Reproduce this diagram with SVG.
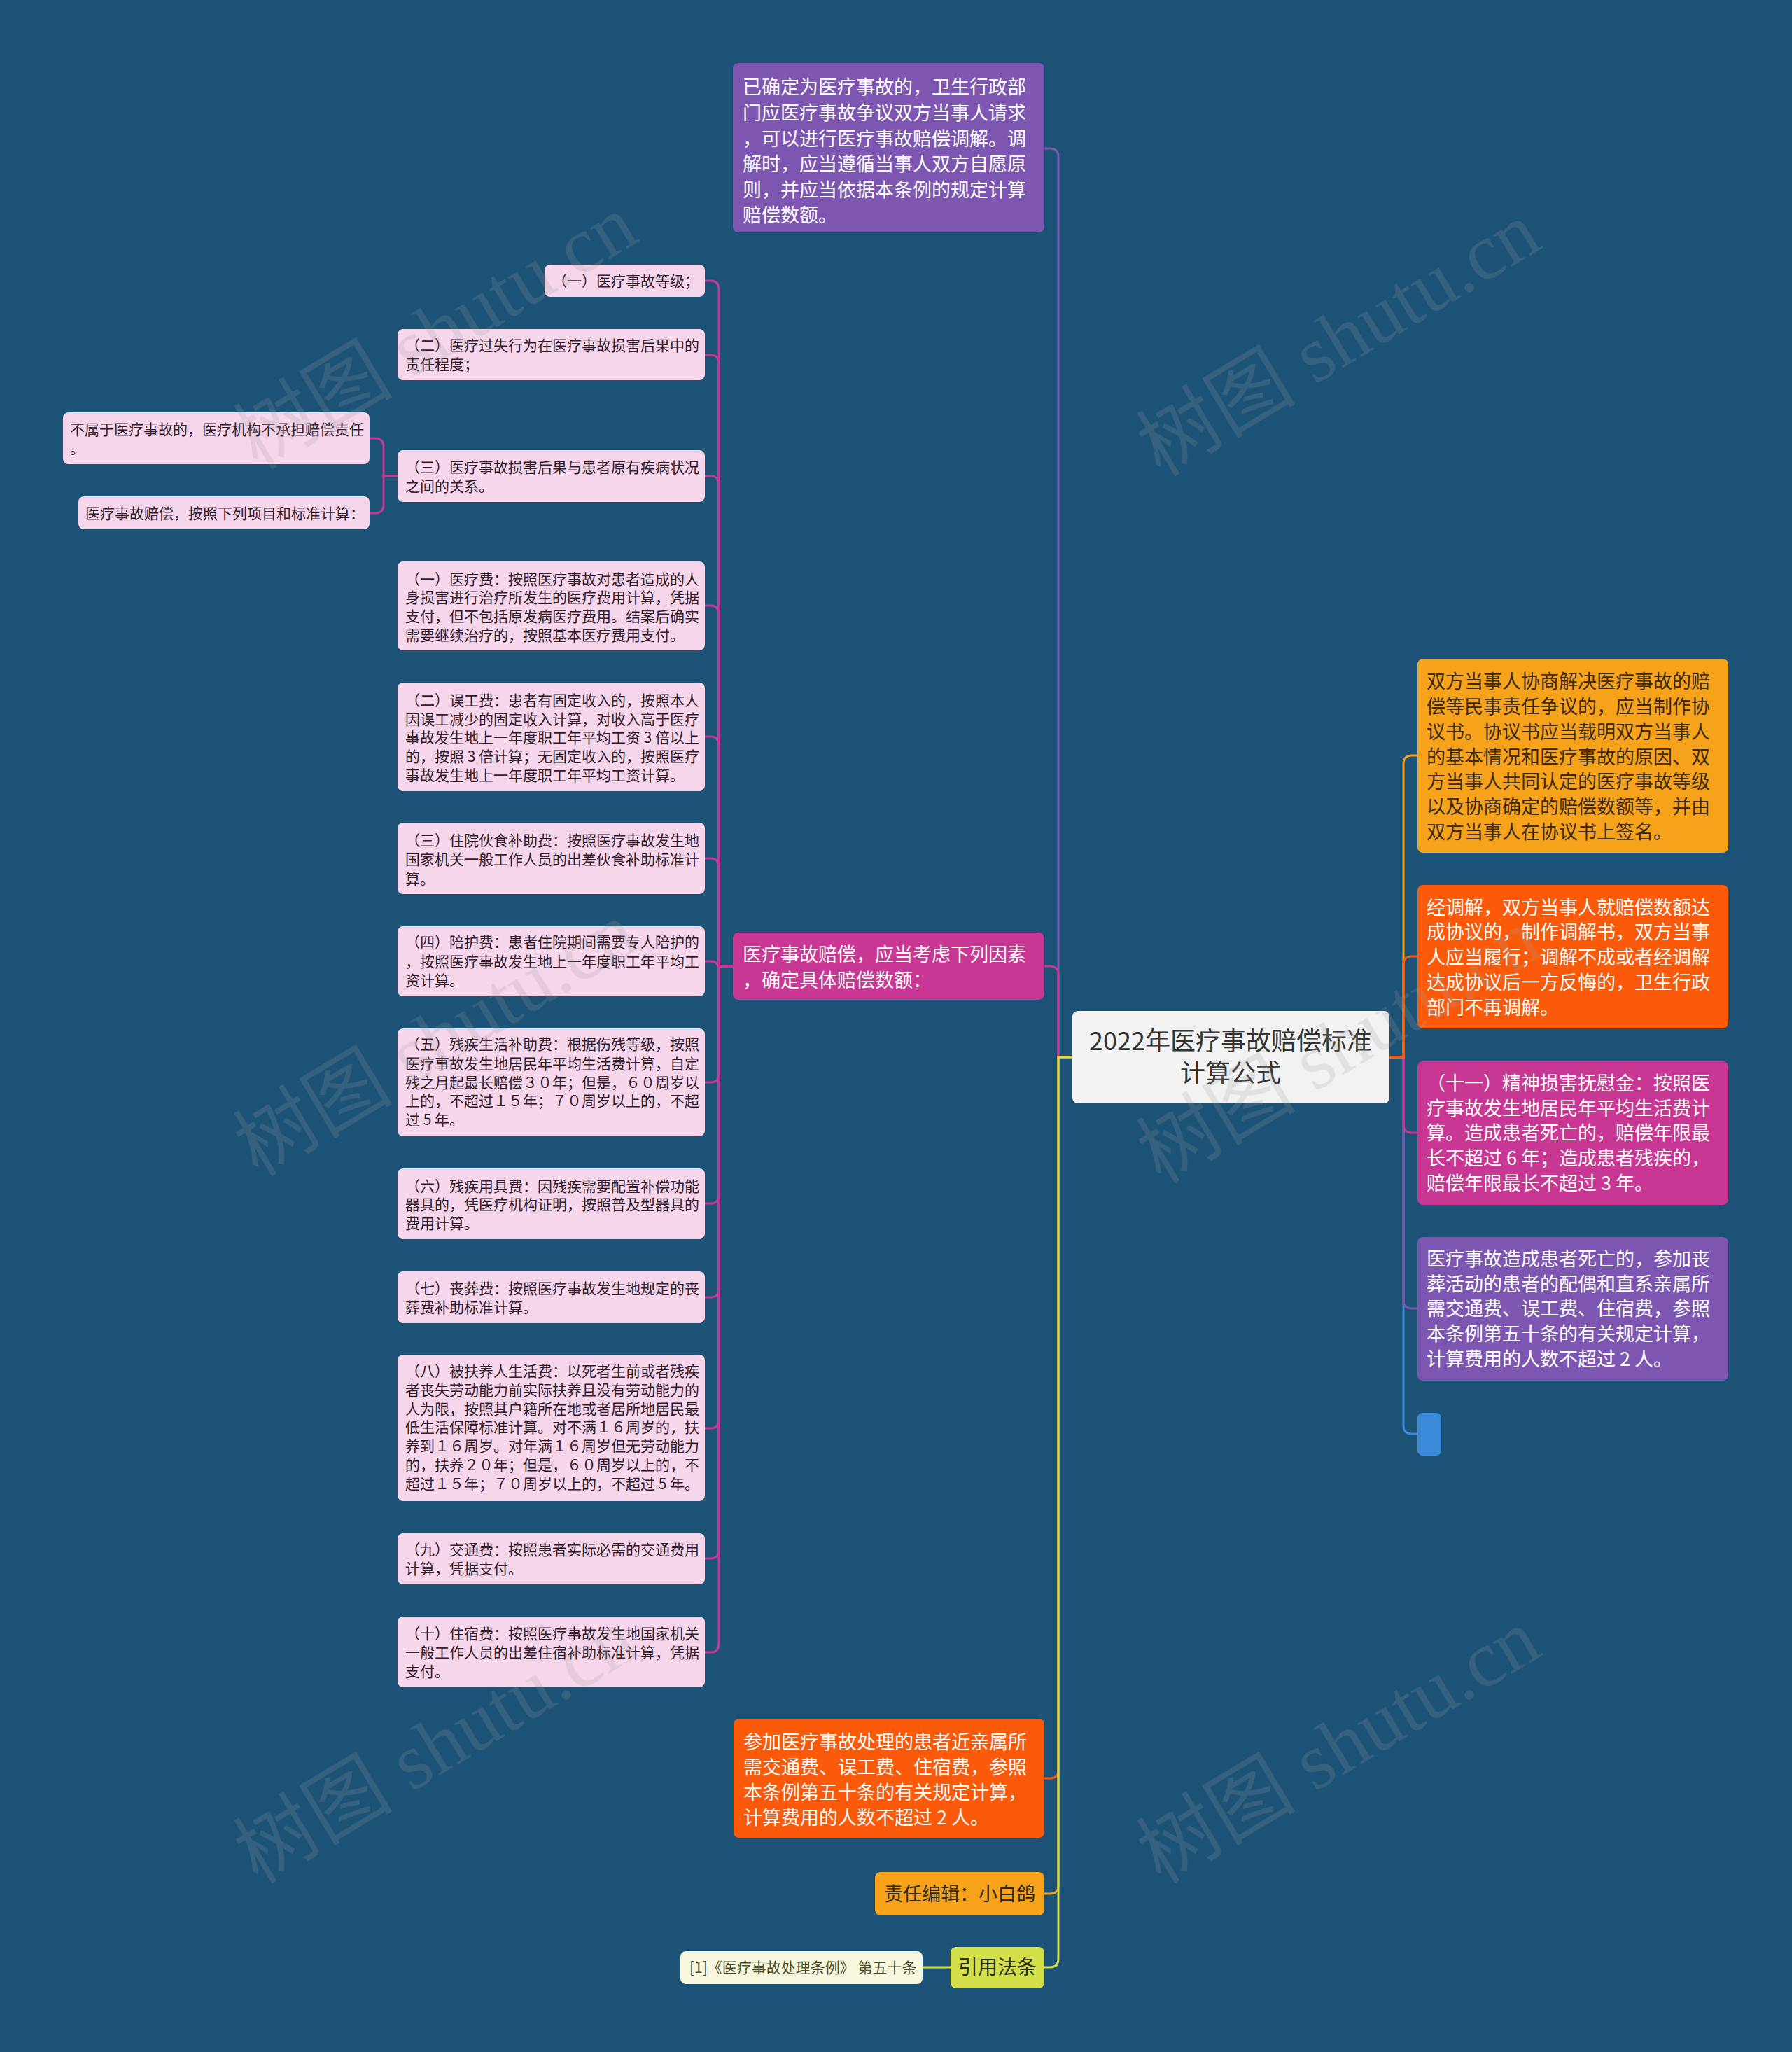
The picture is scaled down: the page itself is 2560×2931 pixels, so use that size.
<svg xmlns="http://www.w3.org/2000/svg" width="2560" height="2931" viewBox="0 0 2560 2931">
<style>
text{font-family:"Noto Sans CJK SC","Noto Sans",sans-serif}
.c{fill:none;stroke-width:3;stroke-linecap:round}
.t27{font-size:27px}
.t21{font-size:21px}
.w{fill:#ffffff}
.d{fill:#33202d}
.o{fill:#3a2a10}
.leaf{fill:#f5d6eb}
.wm{font-family:"Liberation Serif","Noto Sans CJK SC",serif;font-size:114px;fill:#a0a0a0;opacity:0.2}
</style>
<rect x="0" y="0" width="2560" height="2931" fill="#1b5276"/>

<g id="connectors">
  <path class="c" stroke="#7d56b2" d="M1532,1510 H1512 V224 Q1512,212 1500,212 H1492"/>
  <path class="c" stroke="#c93794" d="M1532,1510 H1512 V1392 Q1512,1380 1500,1380 H1492"/>
  <path class="c" stroke="#fb5a0a" d="M1532,1510 H1512 V2528 Q1512,2540 1500,2540 H1492"/>
  <path class="c" stroke="#f7a21b" d="M1532,1510 H1512 V2693 Q1512,2705 1500,2705 H1492"/>
  <path class="c" stroke="#d3e04a" d="M1532,1510 H1512 V2798 Q1512,2810 1500,2810 H1492"/>
  <path class="c" stroke="#d3e04a" d="M1358,2810 H1318"/>
  <g stroke="#c93794">
    <path class="c" d="M1047,1380 H1027 V413 Q1027,401 1015,401 H1007"/>
    <path class="c" d="M1047,1380 H1027 V519 Q1027,507 1015,507 H1007"/>
    <path class="c" d="M1047,1380 H1027 V692 Q1027,680 1015,680 H1007"/>
    <path class="c" d="M1047,1380 H1027 V877 Q1027,865 1015,865 H1007"/>
    <path class="c" d="M1047,1380 H1027 V1064 Q1027,1052 1015,1052 H1007"/>
    <path class="c" d="M1047,1380 H1027 V1238 Q1027,1226 1015,1226 H1007"/>
    <path class="c" d="M1047,1380 H1027 V1385 Q1027,1373 1015,1373 H1007"/>
    <path class="c" d="M1047,1380 H1027 V1534 Q1027,1546 1015,1546 H1007"/>
    <path class="c" d="M1047,1380 H1027 V1707 Q1027,1719 1015,1719 H1007"/>
    <path class="c" d="M1047,1380 H1027 V1841 Q1027,1853 1015,1853 H1007"/>
    <path class="c" d="M1047,1380 H1027 V2028 Q1027,2040 1015,2040 H1007"/>
    <path class="c" d="M1047,1380 H1027 V2214 Q1027,2226 1015,2226 H1007"/>
    <path class="c" d="M1047,1380 H1027 V2348 Q1027,2360 1015,2360 H1007"/>
    <path class="c" d="M568,680 H548 V638 Q548,626 536,626 H528"/>
    <path class="c" d="M568,680 H548 V721 Q548,733 536,733 H528"/>
  </g>
  <path class="c" stroke="#3a8ad8" d="M1985,1510 H2005 V2036 Q2005,2048 2017,2048 H2025"/>
  <path class="c" stroke="#7d56b2" d="M1985,1510 H2005 V1857 Q2005,1869 2017,1869 H2025"/>
  <path class="c" stroke="#c93794" d="M1985,1510 H2005 V1606 Q2005,1618 2017,1618 H2025"/>
  <path class="c" stroke="#f7a21b" d="M1985,1510 H2005 V1091 Q2005,1079 2017,1079 H2025"/>
  <path class="c" stroke="#fb5a0a" d="M1985,1510 H2005 V1378 Q2005,1366 2017,1366 H2025"/>
</g>

<g id="root">
  <rect x="1532" y="1444" width="453" height="132" rx="8" fill="#f2f2f2"/>
  <text x="1758" y="1500" text-anchor="middle" font-size="36" fill="#333333">2022年医疗事故赔偿标准</text>
  <text x="1758" y="1546" text-anchor="middle" font-size="36" fill="#333333">计算公式</text>
</g>

<g id="n-mediation" class="t27 w">
  <rect x="1047" y="90" width="445" height="242" rx="8" fill="#7d56b2"/>
  <text x="1061" y="134">已确定为医疗事故的，卫生行政部</text>
  <text x="1061" y="171">门应医疗事故争议双方当事人请求</text>
  <text x="1061" y="208">，可以进行医疗事故赔偿调解。调</text>
  <text x="1061" y="244">解时，应当遵循当事人双方自愿原</text>
  <text x="1061" y="281">则，并应当依据本条例的规定计算</text>
  <text x="1061" y="317">赔偿数额。</text>
</g>

<g id="n-factors" class="t27 w">
  <rect x="1047" y="1332" width="445" height="96" rx="8" fill="#c93794"/>
  <text x="1061" y="1373">医疗事故赔偿，应当考虑下列因素</text>
  <text x="1061" y="1410">，确定具体赔偿数额：</text>
</g>

<g id="f1" class="t21 d">
  <rect class="leaf" x="778" y="378" width="229" height="46" rx="8"/>
  <text x="789" y="409">（一）医疗事故等级；</text>
</g>
<g id="f2" class="t21 d">
  <rect class="leaf" x="568" y="470" width="439" height="73" rx="8"/>
  <text x="579" y="501">（二）医疗过失行为在医疗事故损害后果中的</text>
  <text x="579" y="528">责任程度；</text>
</g>
<g id="f3" class="t21 d">
  <rect class="leaf" x="568" y="643" width="439" height="74" rx="8"/>
  <text x="579" y="675">（三）医疗事故损害后果与患者原有疾病状况</text>
  <text x="579" y="702">之间的关系。</text>
</g>
<g id="f3a" class="t21 d">
  <rect class="leaf" x="90" y="589" width="438" height="74" rx="8"/>
  <text x="100" y="621">不属于医疗事故的，医疗机构不承担赔偿责任</text>
  <text x="100" y="648">。</text>
</g>
<g id="f3b" class="t21 d">
  <rect class="leaf" x="112" y="709" width="416" height="47" rx="8"/>
  <text x="122" y="741">医疗事故赔偿，按照下列项目和标准计算：</text>
</g>

<g id="i1" class="t21 d">
  <rect class="leaf" x="568" y="802" width="439" height="127" rx="8"/>
  <text x="579" y="835">（一）医疗费：按照医疗事故对患者造成的人</text>
  <text x="579" y="861">身损害进行治疗所发生的医疗费用计算，凭据</text>
  <text x="579" y="888">支付，但不包括原发病医疗费用。结案后确实</text>
  <text x="579" y="915">需要继续治疗的，按照基本医疗费用支付。</text>
</g>
<g id="i2" class="t21 d">
  <rect class="leaf" x="568" y="975" width="439" height="155" rx="8"/>
  <text x="579" y="1008">（二）误工费：患者有固定收入的，按照本人</text>
  <text x="579" y="1035">因误工减少的固定收入计算，对收入高于医疗</text>
  <text x="579" y="1061">事故发生地上一年度职工年平均工资 3 倍以上</text>
  <text x="579" y="1088">的，按照 3 倍计算；无固定收入的，按照医疗</text>
  <text x="579" y="1115">事故发生地上一年度职工年平均工资计算。</text>
</g>
<g id="i3" class="t21 d">
  <rect class="leaf" x="568" y="1175" width="439" height="102" rx="8"/>
  <text x="579" y="1208">（三）住院伙食补助费：按照医疗事故发生地</text>
  <text x="579" y="1235">国家机关一般工作人员的出差伙食补助标准计</text>
  <text x="579" y="1263">算。</text>
</g>
<g id="i4" class="t21 d">
  <rect class="leaf" x="568" y="1323" width="439" height="100" rx="8"/>
  <text x="579" y="1353">（四）陪护费：患者住院期间需要专人陪护的</text>
  <text x="579" y="1381">，按照医疗事故发生地上一年度职工年平均工</text>
  <text x="579" y="1408">资计算。</text>
</g>
<g id="i5" class="t21 d">
  <rect class="leaf" x="568" y="1469" width="439" height="154" rx="8"/>
  <text x="579" y="1499">（五）残疾生活补助费：根据伤残等级，按照</text>
  <text x="579" y="1527">医疗事故发生地居民年平均生活费计算，自定</text>
  <text x="579" y="1554">残之月起最长赔偿３０年；但是，６０周岁以</text>
  <text x="579" y="1580">上的，不超过１５年；７０周岁以上的，不超</text>
  <text x="579" y="1607">过 5 年。</text>
</g>
<g id="i6" class="t21 d">
  <rect class="leaf" x="568" y="1669" width="439" height="101" rx="8"/>
  <text x="579" y="1702">（六）残疾用具费：因残疾需要配置补偿功能</text>
  <text x="579" y="1728">器具的，凭医疗机构证明，按照普及型器具的</text>
  <text x="579" y="1755">费用计算。</text>
</g>
<g id="i7" class="t21 d">
  <rect class="leaf" x="568" y="1816" width="439" height="74" rx="8"/>
  <text x="579" y="1848">（七）丧葬费：按照医疗事故发生地规定的丧</text>
  <text x="579" y="1875">葬费补助标准计算。</text>
</g>
<g id="i8" class="t21 d">
  <rect class="leaf" x="568" y="1935" width="439" height="209" rx="8"/>
  <text x="579" y="1966">（八）被扶养人生活费：以死者生前或者残疾</text>
  <text x="579" y="1993">者丧失劳动能力前实际扶养且没有劳动能力的</text>
  <text x="579" y="2020">人为限，按照其户籍所在地或者居所地居民最</text>
  <text x="579" y="2046">低生活保障标准计算。对不满１６周岁的，扶</text>
  <text x="579" y="2073">养到１６周岁。对年满１６周岁但无劳动能力</text>
  <text x="579" y="2100">的，扶养２０年；但是，６０周岁以上的，不</text>
  <text x="579" y="2127">超过１５年；７０周岁以上的，不超过 5 年。</text>
</g>
<g id="i9" class="t21 d">
  <rect class="leaf" x="568" y="2190" width="439" height="73" rx="8"/>
  <text x="579" y="2221">（九）交通费：按照患者实际必需的交通费用</text>
  <text x="579" y="2248">计算，凭据支付。</text>
</g>
<g id="i10" class="t21 d">
  <rect class="leaf" x="568" y="2309" width="439" height="101" rx="8"/>
  <text x="579" y="2341">（十）住宿费：按照医疗事故发生地国家机关</text>
  <text x="579" y="2368">一般工作人员的出差住宿补助标准计算，凭据</text>
  <text x="579" y="2395">支付。</text>
</g>

<g id="n-relatives" class="t27 w">
  <rect x="1048" y="2455" width="444" height="170" rx="8" fill="#fb5a0a"/>
  <text x="1062" y="2498">参加医疗事故处理的患者近亲属所</text>
  <text x="1062" y="2534">需交通费、误工费、住宿费，参照</text>
  <text x="1062" y="2570">本条例第五十条的有关规定计算，</text>
  <text x="1062" y="2606">计算费用的人数不超过 2 人。</text>
</g>
<g id="n-editor" class="t27">
  <rect x="1250" y="2674" width="242" height="62" rx="8" fill="#f7a21b"/>
  <text x="1371" y="2715" text-anchor="middle" fill="#2e2a1a">责任编辑：小白鸽</text>
</g>
<g id="n-law">
  <rect x="1358" y="2781" width="134" height="59" rx="8" fill="#d3e04a"/>
  <text x="1425" y="2820" text-anchor="middle" font-size="28" fill="#2e2e14">引用法条</text>
</g>
<g id="n-cite">
  <rect x="972" y="2787" width="346" height="47" rx="8" fill="#f6f7dd"/>
  <text x="985" y="2818" font-size="21" fill="#4d4d2b">[1]《医疗事故处理条例》 第五十条</text>
</g>

<g id="n-agreement" class="t27 o">
  <rect x="2025" y="941" width="444" height="277" rx="8" fill="#f7a21b"/>
  <text x="2038" y="983">双方当事人协商解决医疗事故的赔</text>
  <text x="2038" y="1019">偿等民事责任争议的，应当制作协</text>
  <text x="2038" y="1055">议书。协议书应当载明双方当事人</text>
  <text x="2038" y="1091">的基本情况和医疗事故的原因、双</text>
  <text x="2038" y="1126">方当事人共同认定的医疗事故等级</text>
  <text x="2038" y="1162">以及协商确定的赔偿数额等，并由</text>
  <text x="2038" y="1198">双方当事人在协议书上签名。</text>
</g>
<g id="n-settle" class="t27 w">
  <rect x="2025" y="1264" width="444" height="205" rx="8" fill="#fb5a0a"/>
  <text x="2038" y="1306">经调解，双方当事人就赔偿数额达</text>
  <text x="2038" y="1341">成协议的，制作调解书，双方当事</text>
  <text x="2038" y="1377">人应当履行；调解不成或者经调解</text>
  <text x="2038" y="1413">达成协议后一方反悔的，卫生行政</text>
  <text x="2038" y="1449">部门不再调解。</text>
</g>
<g id="n-mental" class="t27 w">
  <rect x="2025" y="1516" width="444" height="205" rx="8" fill="#c93794"/>
  <text x="2038" y="1557">（十一）精神损害抚慰金：按照医</text>
  <text x="2038" y="1593">疗事故发生地居民年平均生活费计</text>
  <text x="2038" y="1628">算。造成患者死亡的，赔偿年限最</text>
  <text x="2038" y="1664">长不超过 6 年；造成患者残疾的，</text>
  <text x="2038" y="1700">赔偿年限最长不超过 3 年。</text>
</g>
<g id="n-funeral" class="t27 w">
  <rect x="2025" y="1767" width="444" height="205" rx="8" fill="#7d56b2"/>
  <text x="2038" y="1808">医疗事故造成患者死亡的，参加丧</text>
  <text x="2038" y="1844">葬活动的患者的配偶和直系亲属所</text>
  <text x="2038" y="1879">需交通费、误工费、住宿费，参照</text>
  <text x="2038" y="1915">本条例第五十条的有关规定计算，</text>
  <text x="2038" y="1951">计算费用的人数不超过 2 人。</text>
</g>
<g id="n-empty">
  <rect x="2025" y="2018" width="34" height="61" rx="7" fill="#3a8ad8"/>
</g>

<g id="watermark">
  <text class="wm" transform="translate(368,672) rotate(-31)">树图 shutu.cn</text>
  <text class="wm" transform="translate(1658,682) rotate(-31)">树图 shutu.cn</text>
  <text class="wm" transform="translate(368,1682) rotate(-31)">树图 shutu.cn</text>
  <text class="wm" transform="translate(1658,1692) rotate(-31)">树图 shutu.cn</text>
  <text class="wm" transform="translate(368,2692) rotate(-31)">树图 shutu.cn</text>
  <text class="wm" transform="translate(1658,2692) rotate(-31)">树图 shutu.cn</text>
</g>
</svg>
